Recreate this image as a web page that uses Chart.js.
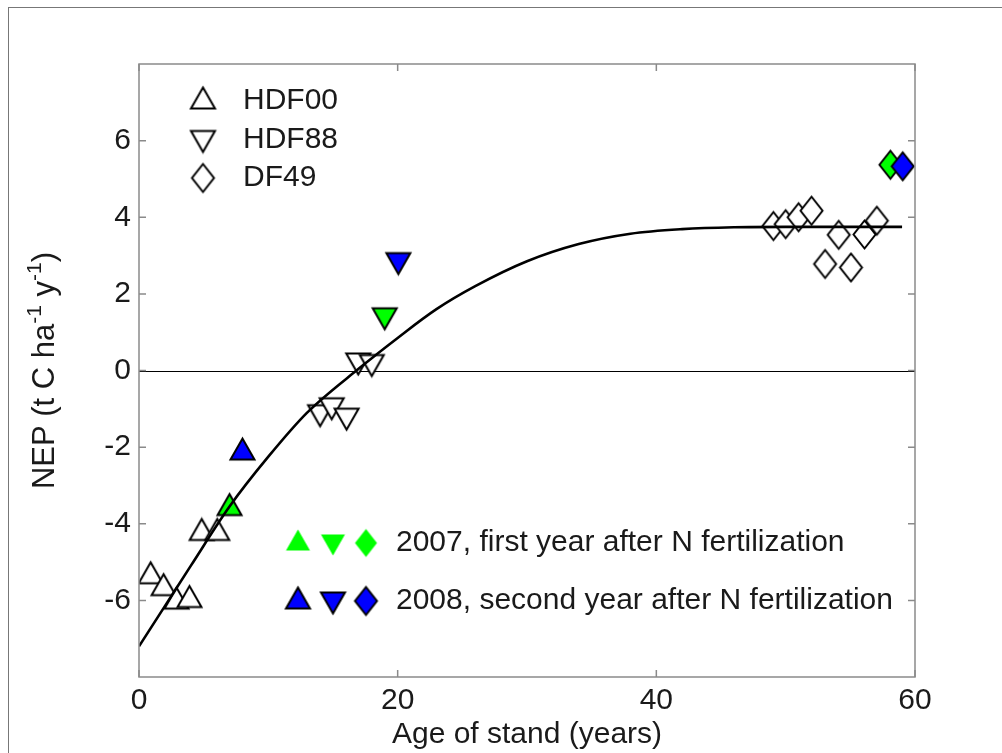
<!DOCTYPE html>
<html>
<head>
<meta charset="utf-8">
<script src="https://cdn.jsdelivr.net/npm/chart.js@4.4.0/dist/chart.umd.min.js"></script>
<style>
  html, body { margin: 0; padding: 0; background: #fff; }
  #wrap { position: relative; width: 1002px; height: 753px; overflow: hidden; }
  #frame { position: absolute; left: 8px; top: 7px; right: 0; bottom: 0; border-top: 1px solid #777; border-left: 1px solid #777; }
  canvas { position: absolute; left: 0; top: 0; }
</style>
</head>
<body>
<div id="wrap">
  <div id="frame"></div>
  <canvas id="chart" width="1002" height="753"></canvas>
</div>
<script>
// fitted NEP curve
const curveAge = [0, 2, 4, 7, 10, 13, 17, 20, 23, 26, 30, 34, 38, 42, 46, 50, 55, 59];
const curveNep = [-7.2, -6.15, -5.1, -3.55, -2.25, -1.1, 0.05, 0.85, 1.6, 2.2, 2.85, 3.3, 3.57, 3.69, 3.74, 3.75, 3.75, 3.75];

// stands
const standNames = ["HDF00", "HDF88", "DF49"];
const hdf00Age = [0.9, 1.9, 2.9, 3.9, 4.85, 6.05];
const hdf00Nep = [-5.28, -5.59, -5.94, -5.9, -4.15, -4.15];
const hdf88Age = [14.0, 14.9, 16.05, 16.95, 18.0];
const hdf88Nep = [-1.18, -1.0, -1.27, 0.17, 0.13];
const df49Age = [49.05, 50.0, 51.0, 52.0, 53.05, 54.1, 55.05, 56.1, 57.05];
const df49Nep = [3.77, 3.82, 4.0, 4.17, 2.78, 3.54, 2.69, 3.55, 3.91];

// fertilized years (one point per stand: HDF00, HDF88, DF49)
const fertLabels = ["2007, first year after N fertilization", "2008, second year after N fertilization"];
const fert2007Age = [7.0, 19.0, 58.1];
const fert2007Nep = [-3.5, 1.35, 5.37];
const fert2008Age = [8.0, 20.05, 59.05];
const fert2008Nep = [-2.05, 2.79, 5.33];

const xTicks = [0, 20, 40, 60];
const yTicks = [-6, -4, -2, 0, 2, 4, 6];

const FONT_FAMILY = "'Liberation Sans', Arial, Helvetica, sans-serif";
const TEXT_COLOR = "#1a1a1a";
const AXIS_COLOR = "#8a8a8a";
const GREEN = "#00ff00";
const BLUE = "#0000ff";

function toPoints(xs, ys) {
    return xs.map((x, i) => ({ x, y: ys[i] }));
}

// marker images (matlab-like triangles and a tall diamond)
function makeMarker(shape, fill, stroke, lw) {
    const w = shape === "diamond" ? 27 : 29;
    const h = shape === "diamond" ? 33 : 26;
    const c = document.createElement("canvas");
    c.width = w;
    c.height = h;
    const ctx = c.getContext("2d");
    const p = 2.5;
    ctx.beginPath();
    if (shape === "up") {
        ctx.moveTo(w / 2, p);
        ctx.lineTo(w - p, h - p);
        ctx.lineTo(p, h - p);
    } else if (shape === "down") {
        ctx.moveTo(p, p);
        ctx.lineTo(w - p, p);
        ctx.lineTo(w / 2, h - p);
    } else {
        ctx.moveTo(w / 2, p);
        ctx.lineTo(w - p, h / 2);
        ctx.lineTo(w / 2, h - p);
        ctx.lineTo(p, h / 2);
    }
    ctx.closePath();
    ctx.fillStyle = fill;
    ctx.fill();
    if (stroke) {
        ctx.lineWidth = lw;
        ctx.lineJoin = "miter";
        ctx.strokeStyle = stroke;
        ctx.stroke();
    }
    return c;
}

const shapes = ["up", "down", "diamond"];
const openMarkers = shapes.map(s => makeMarker(s, "#fff", "#000", 2));
const greenMarkers = shapes.map(s => makeMarker(s, GREEN, "#000", 2));
const blueMarkers = shapes.map(s => makeMarker(s, BLUE, "#000", 2));
const greenLegendMarkers = shapes.map(s => makeMarker(s, GREEN, null, 0));
const blueLegendMarkers = shapes.map(s => makeMarker(s, BLUE, "#000", 2));

function font(size) {
    return size + "px " + FONT_FAMILY;
}

// zero line behind the marks
const zeroLine = {
    id: "zeroLine",
    beforeDatasetsDraw(chart) {
        const { ctx, chartArea, scales } = chart;
        const y0 = Math.round(scales.y.getPixelForValue(0)) + 0.5;
        ctx.save();
        ctx.strokeStyle = "#000";
        ctx.lineWidth = 1;
        ctx.beginPath();
        ctx.moveTo(chartArea.left, y0);
        ctx.lineTo(chartArea.right, y0);
        ctx.stroke();
        ctx.restore();
    }
};

// box with inward ticks on all four sides, legends and the y title
const decorations = {
    id: "decorations",
    afterDraw(chart) {
        const { ctx, chartArea, scales } = chart;
        const { left, right, top, bottom } = chartArea;
        ctx.save();

        ctx.strokeStyle = AXIS_COLOR;
        ctx.lineWidth = 1.5;
        ctx.strokeRect(left, top, right - left, bottom - top);
        const tl = 7;
        ctx.beginPath();
        xTicks.forEach(v => {
            const x = scales.x.getPixelForValue(v);
            ctx.moveTo(x, bottom); ctx.lineTo(x, bottom - tl);
            ctx.moveTo(x, top); ctx.lineTo(x, top + tl);
        });
        yTicks.forEach(v => {
            const y = scales.y.getPixelForValue(v);
            ctx.moveTo(left, y); ctx.lineTo(left + tl, y);
            ctx.moveTo(right, y); ctx.lineTo(right - tl, y);
        });
        ctx.stroke();

        // stand legend
        ctx.fillStyle = TEXT_COLOR;
        ctx.font = font(30);
        ctx.textBaseline = "middle";
        ctx.textAlign = "left";
        const shift = [-3, 2, 0];
        standNames.forEach((name, i) => {
            const y = 101 + i * 38.5;
            const img = openMarkers[i];
            ctx.drawImage(img, 203 - img.width / 2, y + shift[i] - img.height / 2);
            ctx.fillText(name, 243, y);
        });

        // fertilization legend
        const rows = [greenLegendMarkers, blueLegendMarkers];
        const mx = [298, 333, 366];
        fertLabels.forEach((label, r) => {
            const y = 543 + r * 58;
            rows[r].forEach((img, i) => {
                ctx.drawImage(img, mx[i] - img.width / 2, y + shift[i] - img.height / 2);
            });
            ctx.fillText(label, 396, y);
        });

        // y axis title with superscripts
        const parts = [
            ["NEP (t C ha", 31, 0],
            ["-1", 21, -13],
            [" y", 31, 0],
            ["-1", 21, -13],
            [")", 31, 0]
        ];
        let total = 0;
        parts.forEach(p => { ctx.font = font(p[1]); total += ctx.measureText(p[0]).width; });
        ctx.translate(43, (top + bottom) / 2);
        ctx.rotate(-Math.PI / 2);
        ctx.textBaseline = "alphabetic";
        let x = -total / 2;
        parts.forEach(p => {
            ctx.font = font(p[1]);
            ctx.fillText(p[0], x, 11 + p[2]);
            x += ctx.measureText(p[0]).width;
        });
        ctx.restore();
    }
};

const ctx = document.getElementById("chart").getContext("2d");
new Chart(ctx, {
    type: "scatter",
    data: {
        datasets: [
            {
                label: "fit",
                data: toPoints(curveAge, curveNep),
                showLine: true,
                borderColor: "#000",
                borderWidth: 2.6,
                pointRadius: 0,
                cubicInterpolationMode: "monotone",
                order: 0
            },
            {
                label: fertLabels[1],
                data: toPoints(fert2008Age, fert2008Nep),
                pointStyle: blueMarkers,
                order: 1
            },
            {
                label: fertLabels[0],
                data: toPoints(fert2007Age, fert2007Nep),
                pointStyle: greenMarkers,
                order: 2
            },
            {
                label: standNames[0],
                data: toPoints(hdf00Age, hdf00Nep),
                pointStyle: openMarkers[0],
                order: 3
            },
            {
                label: standNames[1],
                data: toPoints(hdf88Age, hdf88Nep),
                pointStyle: openMarkers[1],
                order: 3
            },
            {
                label: standNames[2],
                data: toPoints(df49Age, df49Nep),
                pointStyle: openMarkers[2],
                order: 3
            }
        ]
    },
    options: {
        responsive: false,
        animation: false,
        layout: { padding: { left: 0, right: 87, top: 64, bottom: 0 } },
        plugins: {
            legend: { display: false },
            tooltip: { enabled: false }
        },
        scales: {
            x: {
                type: "linear",
                min: 0,
                max: 60,
                afterBuildTicks: s => { s.ticks = xTicks.map(v => ({ value: v })); },
                ticks: { font: { family: FONT_FAMILY, size: 30 }, color: TEXT_COLOR, padding: 6, maxRotation: 0 },
                grid: { display: false, drawTicks: false },
                border: { display: false },
                title: {
                    display: true,
                    text: "Age of stand (years)",
                    font: { family: FONT_FAMILY, size: 30 },
                    color: TEXT_COLOR,
                    padding: { top: 0, bottom: 0 }
                },
                afterFit: s => { s.height = 76; }
            },
            y: {
                type: "linear",
                min: -8,
                max: 8,
                afterBuildTicks: s => { s.ticks = yTicks.map(v => ({ value: v })); },
                ticks: { font: { family: FONT_FAMILY, size: 30 }, color: TEXT_COLOR, padding: 8 },
                grid: { display: false, drawTicks: false },
                border: { display: false },
                afterFit: s => { s.width = 139; }
            }
        }
    },
    plugins: [zeroLine, decorations]
});
</script>
</body>
</html>
